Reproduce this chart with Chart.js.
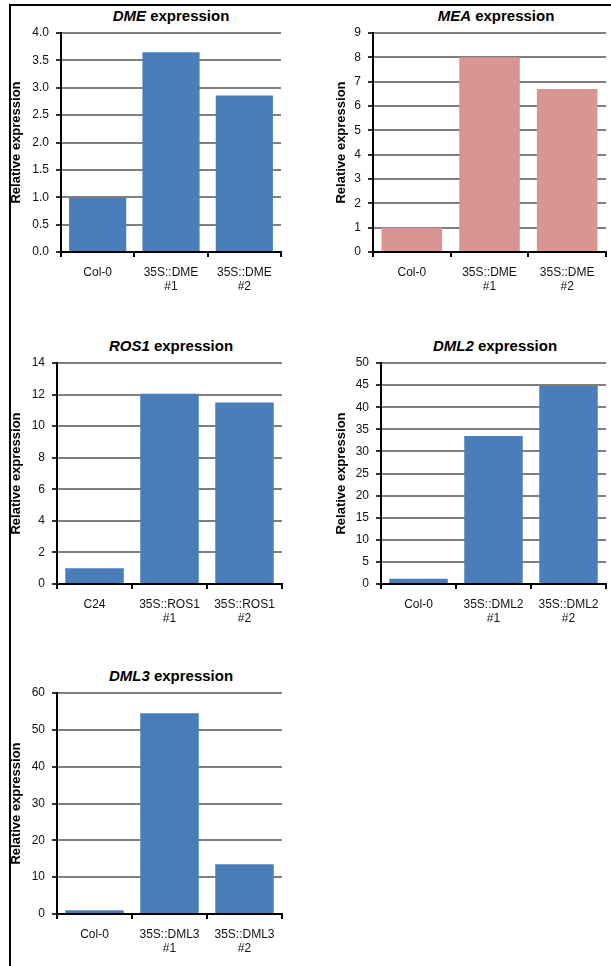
<!DOCTYPE html>
<html>
<head>
<meta charset="utf-8">
<script src="https://cdn.jsdelivr.net/npm/chart.js@4"></script>
<style>
  body { margin: 0; background: #fff; }
  #page { position: relative; width: 611px; height: 966px; overflow: hidden; font-family: "Liberation Sans", Arial, sans-serif; }
  canvas { position: absolute; }
  .title { position: absolute; height: 18px; line-height: 18px; text-align: center; font-weight: bold; font-size: 15px; color: #000; white-space: nowrap; }
  .frame { position: absolute; background: #000; z-index: 5; }
</style>
</head>
<body>
<div id="page">
  <div class="frame" style="left:9px;top:4px;width:602px;height:2px"></div>
  <div class="frame" style="left:9px;top:4px;width:2px;height:962px"></div>

  <div class="title" style="left:61px;top:7px;width:220px"><i>DME</i> expression</div>
  <div class="title" style="left:380px;top:7px;width:232px"><i>MEA</i> expression</div>
  <div class="title" style="left:61px;top:337px;width:220px"><i>ROS1</i> expression</div>
  <div class="title" style="left:381px;top:337px;width:228px"><i>DML2</i> expression</div>
  <div class="title" style="left:61px;top:667px;width:220px"><i>DML3</i> expression</div>

  <canvas id="dme"></canvas>
  <canvas id="mea"></canvas>
  <canvas id="ros1"></canvas>
  <canvas id="dml2"></canvas>
  <canvas id="dml3"></canvas>
</div>
<script>
// values
const dmeLabels = ['Col-0', ['35S::DME', '#1'], ['35S::DME', '#2']];
const dmeValues = [0.99, 3.65, 2.86];

const meaLabels = ['Col-0', ['35S::DME', '#1'], ['35S::DME', '#2']];
const meaValues = [1.0, 8.0, 6.7];

const ros1Labels = ['C24', ['35S::ROS1', '#1'], ['35S::ROS1', '#2']];
const ros1Values = [1.0, 12.05, 11.5];

const dml2Labels = ['Col-0', ['35S::DML2', '#1'], ['35S::DML2', '#2']];
const dml2Values = [1.2, 33.5, 44.8];

const dml3Labels = ['Col-0', ['35S::DML3', '#1'], ['35S::DML3', '#2']];
const dml3Values = [1.0, 54.5, 13.5];

// y axis ranges: [max, step, decimals]
const dmeAxis = [4, 0.5, 1];
const meaAxis = [9, 1, 0];
const ros1Axis = [14, 2, 0];
const dml2Axis = [50, 5, 0];
const dml3Axis = [60, 10, 0];

const blue = '#4a7ebb';
const pink = '#d99594';
const font = '"Liberation Sans", Arial, sans-serif';

// box = canvas position, area = wanted plot area (page coords)
function makeChart(id, labels, values, axis, color, box, area) {
  const el = document.getElementById(id);
  el.style.left = box.x + 'px';
  el.style.top = box.y + 'px';
  el.style.width = box.w + 'px';
  el.style.height = box.h + 'px';
  el.width = box.w;
  el.height = box.h;

  const yWidth = area.left - box.x;
  const xHeight = box.y + box.h - area.bottom;

  return new Chart(el.getContext('2d'), {
    type: 'bar',
    data: {
      labels: labels,
      datasets: [{
        data: values,
        backgroundColor: color,
        borderWidth: 0,
        categoryPercentage: 1,
        barPercentage: 0.78
      }]
    },
    options: {
      responsive: false,
      animation: false,
      layout: {
        padding: { top: area.top - box.y, right: box.x + box.w - area.right, bottom: 0, left: 0 }
      },
      plugins: { legend: { display: false }, tooltip: { enabled: false } },
      scales: {
        x: {
          z: 1,
          grid: { display: true, drawOnChartArea: false, color: '#000', lineWidth: 2, tickLength: 5, offset: true },
          border: { color: '#000', width: 2 },
          ticks: { color: '#111', font: { family: font, size: 12 }, padding: 8, maxRotation: 0, autoSkip: false },
          afterFit: s => { s.height = xHeight; }
        },
        y: {
          min: 0,
          max: axis[0],
          grid: { color: '#7f7f7f', lineWidth: 2, tickLength: 5, tickColor: '#333' },
          border: { color: '#000', width: 2 },
          ticks: {
            stepSize: axis[1],
            color: '#111',
            padding: 7,
            font: { family: font, size: 12 },
            callback: v => v.toFixed(axis[2])
          },
          title: {
            display: true,
            text: 'Relative expression',
            color: '#000',
            padding: 0,
            font: { family: font, size: 13, weight: 'bold' }
          },
          afterFit: s => { s.width = yWidth; }
        }
      }
    }
  });
}

makeChart('dme', dmeLabels, dmeValues, dmeAxis, blue,
  { x: 9, y: 0, w: 291, h: 300 }, { left: 61, top: 33, right: 281, bottom: 252 });
makeChart('mea', meaLabels, meaValues, meaAxis, pink,
  { x: 334, y: 0, w: 277, h: 300 }, { left: 373, top: 33, right: 606, bottom: 252 });
makeChart('ros1', ros1Labels, ros1Values, ros1Axis, blue,
  { x: 9, y: 320, w: 291, h: 310 }, { left: 57, top: 363, right: 282, bottom: 584 });
makeChart('dml2', dml2Labels, dml2Values, dml2Axis, blue,
  { x: 334, y: 320, w: 277, h: 310 }, { left: 381, top: 363, right: 606, bottom: 584 });
makeChart('dml3', dml3Labels, dml3Values, dml3Axis, blue,
  { x: 9, y: 650, w: 291, h: 316 }, { left: 57, top: 693, right: 282, bottom: 914 });
</script>
</body>
</html>
